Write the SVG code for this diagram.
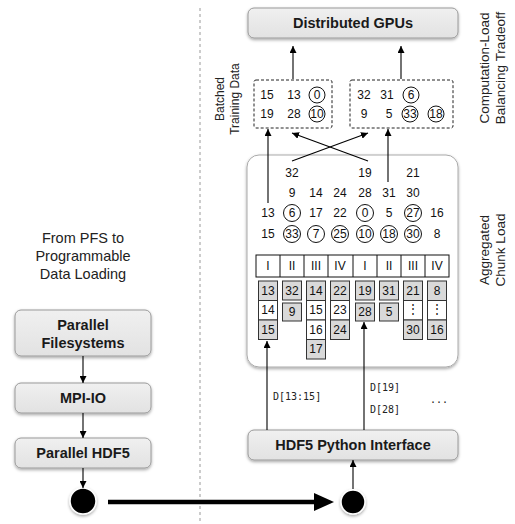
<svg xmlns="http://www.w3.org/2000/svg" width="515" height="524" viewBox="0 0 515 524">
<defs>
<filter id="sh" x="-10%" y="-20%" width="120%" height="150%"><feDropShadow dx="0" dy="1.5" stdDeviation="1.5" flood-color="#000" flood-opacity="0.35"/></filter>
<linearGradient id="gb" x1="0" y1="0" x2="0" y2="1"><stop offset="0" stop-color="#f0f0f0"/><stop offset="1" stop-color="#e2e2e2"/></linearGradient>
<marker id="ah" viewBox="0 0 10 10" refX="10" refY="5" markerWidth="7" markerHeight="7" markerUnits="userSpaceOnUse" orient="auto"><path d="M0,0 L10,5 L0,10 z" fill="#000"/></marker>
</defs>
<style>
.box{fill:url(#gb);stroke:#9a9a9a;stroke-width:1;filter:url(#sh)}
.bt{font-family:"Liberation Sans",Arial,sans-serif;font-weight:bold;font-size:14.5px;fill:#1a1a1a;text-anchor:middle}
.lt{font-family:"Liberation Sans",Arial,sans-serif;font-size:14.5px;fill:#222;text-anchor:middle}
.rt{font-family:"Liberation Sans",Arial,sans-serif;font-size:13.5px;fill:#222;text-anchor:middle}
.st{font-family:"Liberation Sans",Arial,sans-serif;font-size:12px;fill:#222;text-anchor:middle}
.n{font-family:"Liberation Sans",Arial,sans-serif;font-size:12px;fill:#111;text-anchor:middle;dominant-baseline:central}
.m{font-family:"DejaVu Sans Mono","Liberation Mono",monospace;font-size:10px;fill:#222}
.c{fill:none;stroke:#111;stroke-width:1}
.g{fill:#d9d9d9;stroke:#333;stroke-width:1}
.w{fill:#fff;stroke:#333;stroke-width:1}
.ln{stroke:#000;stroke-width:1.1;fill:none}
.dsh{fill:none;stroke:#222;stroke-width:1;stroke-dasharray:3,2}
</style>
<rect width="515" height="524" fill="#fff"/>
<line x1="200" y1="8" x2="200" y2="522" stroke="#999" stroke-width="1" stroke-dasharray="3,3"/>

<g id="left-title">
<text class="lt" x="83" y="243">From PFS to</text>
<text class="lt" x="83" y="261">Programmable</text>
<text class="lt" x="83" y="279">Data Loading</text>
</g>
<g id="pfs"><rect class="box" x="15" y="310" width="136" height="46" rx="6"/><text class="bt" x="83" y="330">Parallel</text><text class="bt" x="83" y="348">Filesystems</text></g>
<g id="mpiio"><rect class="box" x="15" y="383" width="136" height="30" rx="6"/><text class="bt" x="83" y="403">MPI-IO</text></g>
<g id="phdf5"><rect class="box" x="15" y="438" width="136" height="30" rx="6"/><text class="bt" x="83" y="458">Parallel HDF5</text></g>
<g id="dot-left"><circle cx="83" cy="501" r="13" fill="#000" stroke="#fff" stroke-width="1.5" filter="url(#sh)"/></g>
<g id="dot-right"><circle cx="353" cy="502" r="12" fill="#000" stroke="#fff" stroke-width="1.5" filter="url(#sh)"/></g>

<g id="gpus"><rect class="box" x="248" y="8" width="210" height="30" rx="6"/><text class="bt" x="353" y="28">Distributed GPUs</text></g>
<g id="hdf5py"><rect class="box" x="248" y="430" width="210" height="30" rx="6"/><text class="bt" x="353" y="450">HDF5 Python Interface</text></g>

<g id="batch-label">
<text class="st" transform="translate(224,99) rotate(-90)">Batched</text>
<text class="st" transform="translate(239,99) rotate(-90)">Training Data</text>
</g>
<g id="right-labels">
<text class="rt" transform="translate(489,68) rotate(-90)">Computation-Load</text>
<text class="rt" transform="translate(505,68) rotate(-90)">Balancing Tradeoff</text>
<text class="rt" transform="translate(489,250) rotate(-90)">Aggregated</text>
<text class="rt" transform="translate(505,250) rotate(-90)">Chunk Load</text>
</g>

<g id="batch1">
<rect class="dsh" x="254" y="80" width="78" height="48" rx="2"/>
<text class="n" x="267" y="95">15</text><text class="n" x="294" y="95">13</text><circle class="c" cx="317" cy="95" r="8"/><text class="n" x="317" y="95">0</text>
<text class="n" x="267" y="114">19</text><text class="n" x="294" y="114">28</text><circle class="c" cx="317" cy="114" r="8"/><text class="n" x="317" y="114">10</text>
</g>
<g id="batch2">
<rect class="dsh" x="350" y="80" width="103" height="48" rx="2"/>
<text class="n" x="364" y="95">32</text><text class="n" x="387" y="95">31</text><circle class="c" cx="411" cy="95" r="8"/><text class="n" x="411" y="95">6</text>
<text class="n" x="364" y="114">9</text><text class="n" x="389" y="114">5</text><circle class="c" cx="410" cy="114" r="8"/><text class="n" x="410" y="114">33</text><circle class="c" cx="436" cy="114" r="8"/><text class="n" x="436" y="114">18</text>
</g>

<g id="aggregated">
<rect x="247" y="155" width="211" height="212" rx="12" fill="#fff" stroke="#aaa" stroke-width="1" filter="url(#sh)"/>
<text class="n" x="292" y="173">32</text><text class="n" x="365" y="173">19</text><text class="n" x="413" y="173">21</text>
<text class="n" x="292" y="193">9</text><text class="n" x="316" y="193">14</text><text class="n" x="340" y="193">24</text><text class="n" x="365" y="193">28</text><text class="n" x="389" y="193">31</text><text class="n" x="413" y="193">30</text>
<text class="n" x="268" y="213">13</text>
<circle class="c" cx="292" cy="213" r="8.5"/><text class="n" x="292" y="213">6</text>
<text class="n" x="316" y="213">17</text><text class="n" x="340" y="213">22</text>
<circle class="c" cx="365" cy="213" r="8.5"/><text class="n" x="365" y="213">0</text>
<text class="n" x="389" y="213">5</text>
<circle class="c" cx="413" cy="213" r="8.5"/><text class="n" x="413" y="213">27</text>
<text class="n" x="437" y="213">16</text>
<text class="n" x="268" y="234">15</text>
<circle class="c" cx="292" cy="234" r="8.5"/><text class="n" x="292" y="234">33</text>
<circle class="c" cx="316" cy="234" r="8.5"/><text class="n" x="316" y="234">7</text>
<circle class="c" cx="340" cy="234" r="8.5"/><text class="n" x="340" y="234">25</text>
<circle class="c" cx="365" cy="234" r="8.5"/><text class="n" x="365" y="234">10</text>
<circle class="c" cx="389" cy="234" r="8.5"/><text class="n" x="389" y="234">18</text>
<circle class="c" cx="413" cy="234" r="8.5"/><text class="n" x="413" y="234">30</text>
<text class="n" x="437" y="234">8</text>
<g id="servers">
<rect x="256" y="255" width="193" height="22" fill="#fff" stroke="#111" stroke-width="1"/>
<path d="M280,255V277M304,255V277M328,255V277M353,255V277M377,255V277M401,255V277M425,255V277" stroke="#111" stroke-width="1"/>
<text class="n" x="268" y="266">I</text><text class="n" x="292" y="266">II</text><text class="n" x="316" y="266">III</text><text class="n" x="340" y="266">IV</text>
<text class="n" x="365" y="266">I</text><text class="n" x="389" y="266">II</text><text class="n" x="413" y="266">III</text><text class="n" x="437" y="266">IV</text>
</g>
<g id="chunks">
<rect class="g" x="258.5" y="281" width="19" height="19.5"/><rect class="w" x="258.5" y="300.5" width="19" height="19.5"/><rect class="g" x="258.5" y="320" width="19" height="19.5"/>
<text class="n" x="268" y="291">13</text><text class="n" x="268" y="310">14</text><text class="n" x="268" y="330">15</text>
<rect class="g" x="282.5" y="281" width="19" height="19"/><rect class="g" x="282.5" y="303" width="19" height="18"/>
<text class="n" x="292" y="291">32</text><text class="n" x="292" y="312">9</text>
<rect class="g" x="306.5" y="281" width="19" height="19.5"/><rect class="w" x="306.5" y="300.5" width="19" height="19.5"/><rect class="w" x="306.5" y="320" width="19" height="19.5"/><rect class="g" x="306.5" y="339.5" width="19" height="19.5"/>
<text class="n" x="316" y="291">14</text><text class="n" x="316" y="310">15</text><text class="n" x="316" y="330">16</text><text class="n" x="316" y="349">17</text>
<rect class="g" x="330.5" y="281" width="19" height="19.5"/><rect class="w" x="330.5" y="300.5" width="19" height="19.5"/><rect class="g" x="330.5" y="320" width="19" height="19.5"/>
<text class="n" x="340" y="291">22</text><text class="n" x="340" y="310">23</text><text class="n" x="340" y="330">24</text>
<rect class="g" x="355.5" y="281" width="19" height="19"/><rect class="g" x="355.5" y="303" width="19" height="18"/>
<text class="n" x="365" y="291">19</text><text class="n" x="365" y="312">28</text>
<rect class="g" x="379.5" y="281" width="19" height="19"/><rect class="g" x="379.5" y="303" width="19" height="18"/>
<text class="n" x="389" y="291">31</text><text class="n" x="389" y="312">5</text>
<rect class="g" x="403.5" y="281" width="19" height="19.5"/><rect class="w" x="403.5" y="300.5" width="19" height="19.5"/><rect class="g" x="403.5" y="320" width="19" height="19.5"/>
<text class="n" x="413" y="291">21</text><text class="n" x="413" y="309">⋮</text><text class="n" x="413" y="330">30</text>
<rect class="g" x="427.5" y="281" width="19" height="19.5"/><rect class="w" x="427.5" y="300.5" width="19" height="19.5"/><rect class="g" x="427.5" y="320" width="19" height="19.5"/>
<text class="n" x="437" y="291">8</text><text class="n" x="437" y="309">⋮</text><text class="n" x="437" y="330">16</text>
</g>
</g>

<g id="access-labels">
<text class="m" x="273" y="400">D[13:15]</text>
<text class="m" x="370" y="391">D[19]</text>
<text class="m" x="370" y="413">D[28]</text>
<text class="m" x="430" y="403">...</text>
</g>

<g id="connectors">
<line class="ln" x1="83" y1="356" x2="83" y2="383" marker-end="url(#ah)"/>
<line class="ln" x1="83" y1="413" x2="83" y2="438" marker-end="url(#ah)"/>
<line class="ln" x1="83" y1="468" x2="83" y2="488" marker-end="url(#ah)"/>
<line x1="108" y1="502" x2="318" y2="502" stroke="#000" stroke-width="4.5"/>
<path d="M314,493 L334,502 L314,511 z" fill="#000"/>
<line class="ln" x1="353" y1="489" x2="353" y2="460" marker-end="url(#ah)"/>
<line class="ln" x1="267" y1="430" x2="267" y2="341" marker-end="url(#ah)"/>
<line class="ln" x1="364" y1="430" x2="364" y2="322" marker-end="url(#ah)"/>
<line class="ln" x1="268" y1="203" x2="268" y2="129" marker-end="url(#ah)"/>
<line class="ln" x1="388" y1="182" x2="388" y2="129" marker-end="url(#ah)"/>
<line class="ln" x1="292" y1="161" x2="368" y2="133" marker-end="url(#ah)"/>
<line class="ln" x1="368" y1="161" x2="292" y2="133" marker-end="url(#ah)"/>
<line class="ln" x1="293" y1="79" x2="293" y2="46" marker-end="url(#ah)"/>
<line class="ln" x1="401" y1="79" x2="401" y2="46" marker-end="url(#ah)"/>
</g>
</svg>
